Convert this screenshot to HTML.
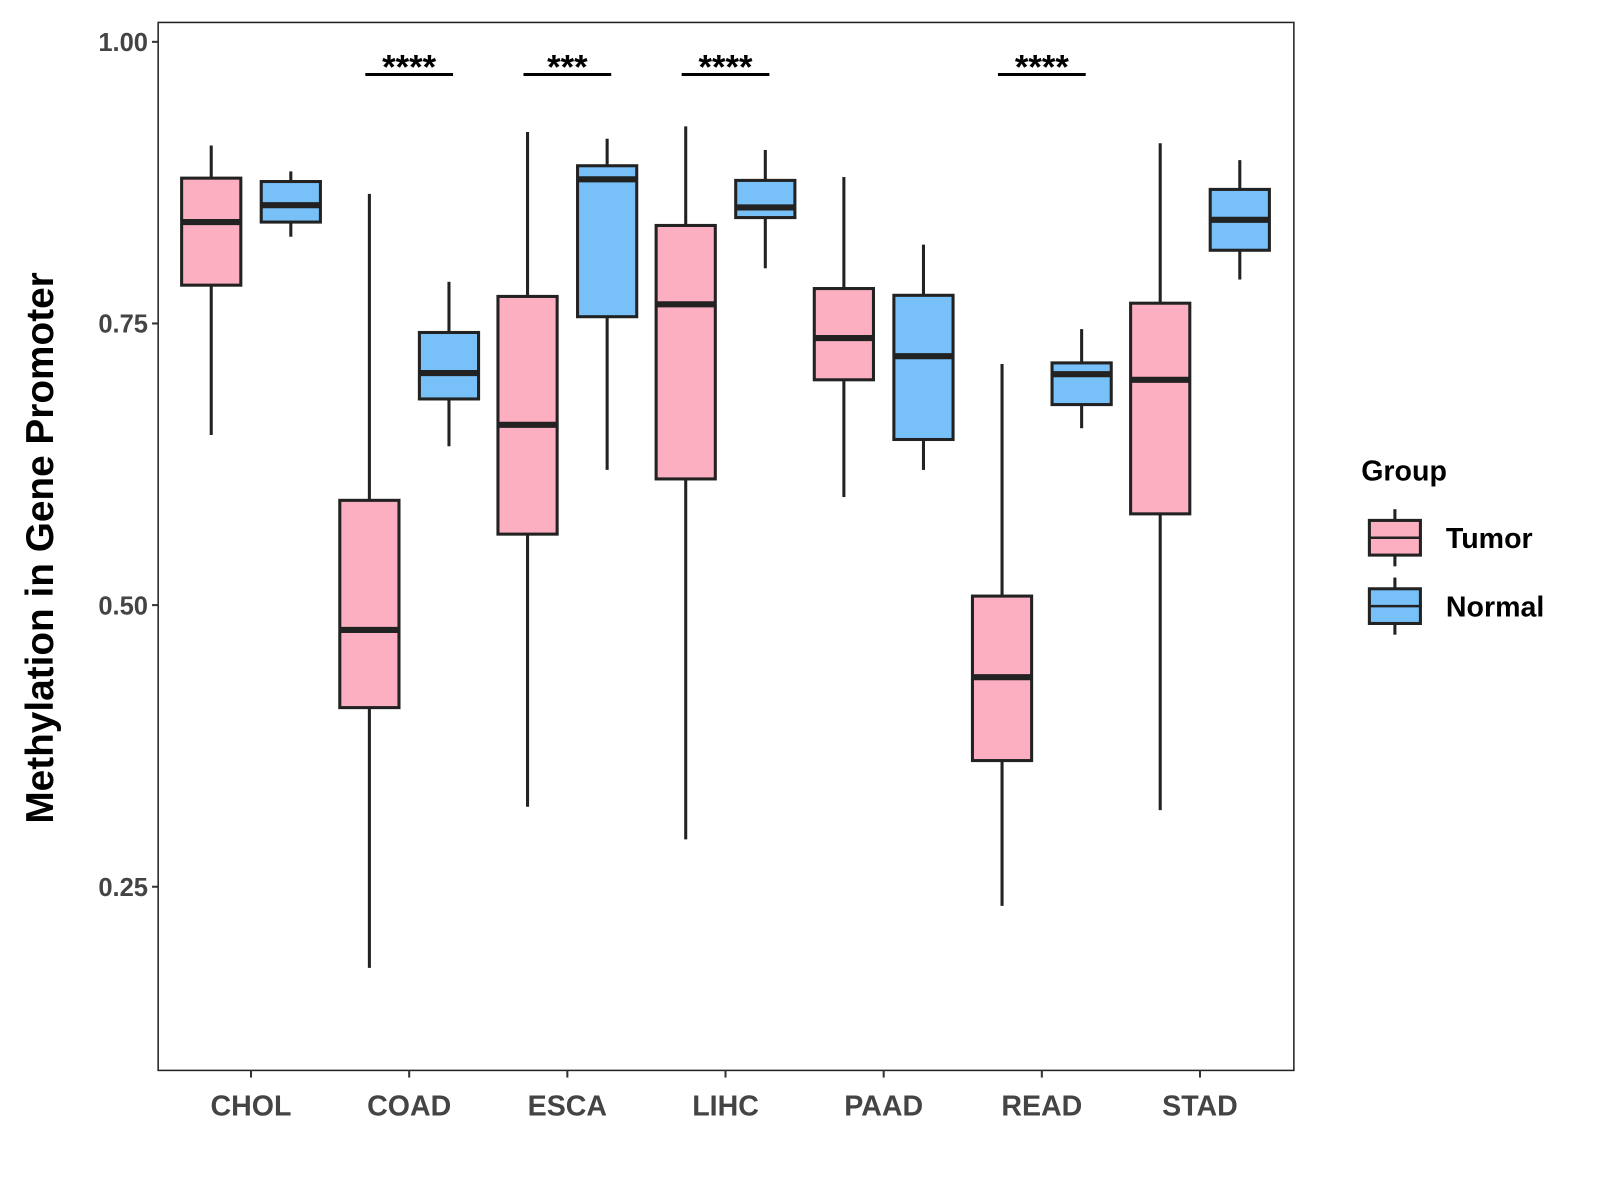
<!DOCTYPE html>
<html><head><meta charset="utf-8"><style>body{margin:0;background:#fff}svg{display:block}</style></head>
<body>
<svg id="chart" width="1600" height="1200" viewBox="0 0 1568 1176" font-family="Liberation Sans, sans-serif">
<rect width="1568" height="1176" fill="#fff"/>
</svg>
<script>
const categories=["CHOL","COAD","ESCA","LIHC","PAAD","READ","STAD"];
const tumorLo=[0.651,0.178,0.321,0.292,0.596,0.233,0.318];
const tumorQ1=[0.784,0.409,0.563,0.612,0.700,0.362,0.581];
const tumorMed=[0.840,0.478,0.660,0.767,0.737,0.436,0.700];
const tumorQ3=[0.879,0.593,0.774,0.837,0.781,0.508,0.768];
const tumorHi=[0.908,0.865,0.920,0.925,0.880,0.714,0.910];
const normalLo=[0.827,0.641,0.620,0.799,0.620,0.657,0.789];
const normalQ1=[0.840,0.683,0.756,0.844,0.647,0.678,0.815];
const normalMed=[0.855,0.706,0.878,0.853,0.721,0.705,0.842];
const normalQ3=[0.876,0.742,0.890,0.877,0.775,0.715,0.869];
const normalHi=[0.885,0.787,0.914,0.904,0.820,0.745,0.895];
const sigLabels=["","****","***","****","","****",""];
const yTicks=[0.25,0.50,0.75,1.00];

const svg=document.getElementById('chart');
const NS='http://www.w3.org/2000/svg';
const L=155,R=1268,T=22,B=1049;
const y=v=>41+(1-v)*1104;
const x=i=>246+i*155;
function mk(tag,attrs,parent){const e=document.createElementNS(NS,tag);for(const k in attrs)e.setAttribute(k,attrs[k]);(parent||svg).appendChild(e);return e;}

const panel=mk('rect',{x:L,y:T,width:R-L,height:B-T,fill:'none',stroke:'#222','stroke-width':1.5});



yTicks.forEach(t=>{
  const g=mk('g',{});
  
  
  mk('line',{x1:L-6,x2:L,y1:y(t),y2:y(t),stroke:'#333','stroke-width':2},g);
  const tx=mk('text',{x:L-10,y:y(t)+9,'text-anchor':'end','font-size':25,'font-weight':'bold',fill:'#444'},g);
  tx.textContent=t.toFixed(2);
});
categories.forEach((c,i)=>{
  const g=mk('g',{});
  
  
  mk('line',{x1:x(i),x2:x(i),y1:B,y2:B+7,stroke:'#333','stroke-width':2},g);
  const tx=mk('text',{x:x(i),y:B+44,'text-anchor':'middle','font-size':28,'font-weight':'bold',fill:'#444'},g);
  tx.textContent=c;
});
const yt=mk('text',{x:52,y:537,'text-anchor':'middle','font-size':38,'font-weight':'bold',fill:'#000',transform:'rotate(-90 52 537)'});


yt.textContent='Methylation in Gene Promoter';

function box(cx,lo,q1,md,q3,hi,fill,name){
  const g=mk('g',{});
  
  
  const w=58;
  mk('line',{x1:cx,x2:cx,y1:y(hi),y2:y(q3),stroke:'#222','stroke-width':3},g);
  mk('line',{x1:cx,x2:cx,y1:y(q1),y2:y(lo),stroke:'#222','stroke-width':3},g);
  mk('rect',{x:cx-w/2,y:y(q3),width:w,height:y(q1)-y(q3),fill:fill,stroke:'#222','stroke-width':3},g);
  mk('line',{x1:cx-w/2,x2:cx+w/2,y1:y(md),y2:y(md),stroke:'#222','stroke-width':6},g);
}
categories.forEach((c,i)=>{
  box(x(i)-39,tumorLo[i],tumorQ1[i],tumorMed[i],tumorQ3[i],tumorHi[i],'#FBAFC1','box-tumor-'+c.toLowerCase());
  box(x(i)+39,normalLo[i],normalQ1[i],normalMed[i],normalQ3[i],normalHi[i],'#77C1F8','box-normal-'+c.toLowerCase());
  if(sigLabels[i]){
    const g=mk('g',{});
    
    
    mk('line',{x1:x(i)-43,x2:x(i)+43,y1:73,y2:73,stroke:'#000','stroke-width':3},g);
    const t=mk('text',{x:x(i),y:77,'text-anchor':'middle','font-size':34,'font-weight':'bold',fill:'#000'},g);
    t.textContent=sigLabels[i];
  }
});

const lt=mk('text',{x:1334,y:471,'font-size':28,'font-weight':'bold',fill:'#000'});


lt.textContent='Group';
[['Tumor','#FBAFC1',527],['Normal','#77C1F8',594]].forEach(([n,f,cy])=>{
  const g=mk('g',{});
  
  
  mk('line',{x1:1367,x2:1367,y1:cy-28,y2:cy+28,stroke:'#222','stroke-width':3},g);
  mk('rect',{x:1342,y:cy-17,width:50,height:34,fill:f,stroke:'#222','stroke-width':3},g);
  mk('line',{x1:1342,x2:1392,y1:cy,y2:cy,stroke:'#222','stroke-width':2.5},g);
  const t=mk('text',{x:1417,y:cy+10,'font-size':28,'font-weight':'bold',fill:'#000'},g);
  t.textContent=n;
});
</script>
</body></html>
